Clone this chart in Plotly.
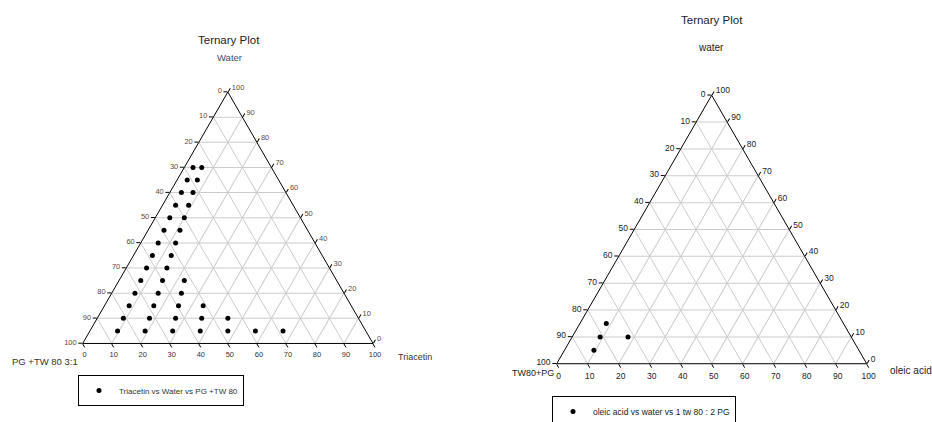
import plotly.graph_objects as go

FONT = "Arial, Liberation Sans, sans-serif"
W, H = 932, 422

# ---- Left diagram: Triacetin / Water / PG+TW80 (3:1), % w/w ----
triacetin = [3, 6, 3.5, 7, 4, 8, 4.5, 9, 5, 10, 5.5, 11, 6, 12, 6.5, 13, 7, 14,
             7.5, 15, 22.5, 8, 16, 24, 8.5, 17, 25.5, 34,
             9, 18, 27, 36, 45, 9.5, 19, 28.5, 38, 47.5, 57, 66.5]
water_left = [70, 70, 65, 65, 60, 60, 55, 55, 50, 50, 45, 45, 40, 40, 35, 35, 30, 30,
              25, 25, 25, 20, 20, 20, 15, 15, 15, 15,
              10, 10, 10, 10, 10, 5, 5, 5, 5, 5, 5, 5]
smix_left = [100 - t - w for t, w in zip(triacetin, water_left)]

# ---- Right diagram: oleic acid / water / TW80+PG (1:2), % w/w ----
oleic = [8.5, 9, 18, 9.5]
water_right = [15, 10, 10, 5]
smix_right = [100 - o - w for o, w in zip(oleic, water_right)]

tick_vals = list(range(0, 101, 10))
# each side is read clockwise, so labels run opposite to plotly's own direction
tick_text = [str(100 - v) for v in tick_vals]


def tern_axis(size, color):
    return dict(
        min=0, tickmode="array", tickvals=tick_vals, ticktext=tick_text,
        ticks="outside", ticklen=4, tickcolor="black", tickwidth=1,
        linecolor="black", linewidth=1, showline=True,
        showgrid=True, gridcolor="#cccccc", gridwidth=1,
        tickfont=dict(family=FONT, size=size, color=color),
        title=dict(text=""),
    )


def px_x(x):
    return x / W


def px_y(y):
    return 1 - y / H


fig = go.Figure()
fig.add_trace(go.Scatterternary(
    a=water_left, b=smix_left, c=triacetin, mode="markers",
    marker=dict(color="black", size=5),
    name="Triacetin vs Water vs PG +TW 80",
    subplot="ternary", legend="legend", showlegend=True,
))
fig.add_trace(go.Scatterternary(
    a=water_right, b=smix_right, c=oleic, mode="markers",
    marker=dict(color="black", size=5),
    name="oleic acid vs water vs 1 tw 80 : 2 PG",
    subplot="ternary2", legend="legend2", showlegend=True,
))

left_tick_col = "#5e4a3a"
fig.update_layout(
    width=W, height=H,
    margin=dict(l=0, r=0, t=0, b=0, autoexpand=False),
    paper_bgcolor="white",
    font=dict(family=FONT, color="#222222"),
    ternary=dict(
        domain=dict(x=[px_x(82.7), px_x(373)], y=[px_y(344.5), px_y(91)]),
        sum=100, bgcolor="white",
        aaxis=tern_axis(7.5, left_tick_col),
        baxis=tern_axis(7.5, "#333333"),
        caxis=tern_axis(7.5, left_tick_col),
    ),
    ternary2=dict(
        domain=dict(x=[px_x(556.7), px_x(866.7)], y=[px_y(364), px_y(95)]),
        sum=100, bgcolor="white",
        aaxis=tern_axis(8.5, "#222222"),
        baxis=tern_axis(8.5, "#222222"),
        caxis=tern_axis(8.5, "#222222"),
    ),
    legend=dict(
        x=px_x(78), y=px_y(375), xanchor="left", yanchor="top",
        bordercolor="black", borderwidth=1, bgcolor="white",
        font=dict(family=FONT, size=8, color="#333333"),
    ),
    legend2=dict(
        x=px_x(552), y=px_y(396), xanchor="left", yanchor="top",
        bordercolor="black", borderwidth=1, bgcolor="white",
        font=dict(family=FONT, size=8.5, color="#222222"),
    ),
)

labels = [
    # text, x px, y px, size, anchor, colour
    ("Ternary Plot", 229, 40, 11.5, "center", "#222222"),
    ("Water", 229, 57, 9.5, "center", "#4a4a5e"),
    ("PG +TW 80 3:1", 10, 361, 9.5, "left", "#333333"),
    ("Triacetin", 396, 357, 9, "left", "#333333"),
    ("Ternary Plot", 712, 20, 11.5, "center", "#222222"),
    ("water", 711, 48, 10, "center", "#222222"),
    ("TW80+PG", 510, 373, 9, "left", "#222222"),
    ("oleic acid", 888, 370, 10, "left", "#222222"),
]
for text, x, y, size, anchor, col in labels:
    fig.add_annotation(
        text=text, x=px_x(x), y=px_y(y), xref="paper", yref="paper",
        xanchor=anchor, yanchor="middle", showarrow=False,
        font=dict(family=FONT, size=size, color=col),
    )

fig.write_html("out.html")
